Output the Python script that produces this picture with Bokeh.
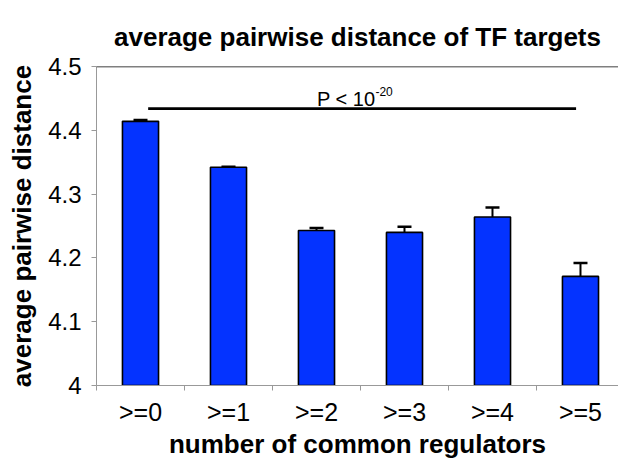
from bokeh.plotting import figure
from bokeh.models import (ColumnDataSource, Whisker, TeeHead, FixedTicker, Span,
                          Range1d, NumeralTickFormatter, Label)
from bokeh.embed import file_html
from bokeh.resources import INLINE

# ---- data ----
categories = [">=0", ">=1", ">=2", ">=3", ">=4", ">=5"]
values = [4.414, 4.342, 4.243, 4.240, 4.264, 4.171]
errors = [0.002, 0.001, 0.004, 0.009, 0.015, 0.021]
y_ticks = [4.0, 4.1, 4.2, 4.3, 4.4, 4.5]
title_text = "average pairwise distance of TF targets"
p_text = "P < 10"
p_exp = "-20"
p_line_y = 4.434
p_line_x = [0.587, 5.45]

FONT = "Liberation Sans"

xpos = [i + 0.5 for i in range(len(categories))]
src = ColumnDataSource(dict(
    x=xpos, top=values,
    upper=[v + e for v, e in zip(values, errors)],
    lower=[v - e for v, e in zip(values, errors)],
))

p = figure(frame_width=522, frame_height=319, output_backend="svg", toolbar_location=None,
           x_range=Range1d(0, 5.932), y_range=Range1d(4.0, 4.5),
           min_border_left=96, min_border_right=0, min_border_top=66,
           min_border_bottom=60, title=title_text)
p.outline_line_color = None
p.grid.grid_line_color = None
p.background_fill_color = "white"
p.border_fill_color = "white"

p.title.text_font = FONT
p.title.text_font_size = "26px"
p.title.text_font_style = "bold"
p.title.text_color = "black"
p.title.align = "center"
p.title.standoff = 30

p.vbar(x="x", top="top", bottom=4.0, width=0.41, source=src,
       fill_color="#0433FF", line_color="black", line_width=1.6)

w = Whisker(base="x", upper="upper", lower="lower", source=src,
            line_color="black", line_width=2,
            upper_head=TeeHead(size=14, line_width=2.5, line_color="black"),
            lower_head=TeeHead(size=14, line_width=2.5, line_color="black"))
p.add_layout(w)

# top border line at 4.5
p.add_layout(Span(location=4.5, dimension="width", line_color="black", line_width=1.5))

# significance annotation
p.line(x=p_line_x, y=[p_line_y, p_line_y], line_color="black", line_width=2.7)
p.add_layout(Label(x=3.17, y=4.4494, text=p_text, text_align="right",
                   text_baseline="alphabetic", text_font=FONT, text_font_size="20px",
                   text_color="black"))
p.add_layout(Label(x=3.17, y=4.4609, text=p_exp, text_align="left",
                   text_baseline="alphabetic", text_font=FONT, text_font_size="12px",
                   text_color="black"))

# y axis
ya = p.yaxis[0]
ya.ticker = FixedTicker(ticks=y_ticks)
ya.formatter = NumeralTickFormatter(format="0.[0]")
ya.axis_line_color = "#999999"
ya.major_tick_line_color = "#999999"
ya.major_tick_out = 5
ya.major_tick_in = 0
ya.minor_tick_line_color = None
ya.major_label_text_font = FONT
ya.major_label_text_font_size = "24px"
ya.major_label_text_color = "black"
ya.major_label_standoff = 10
ya.axis_label = "average pairwise distance"
ya.axis_label_text_font = FONT
ya.axis_label_text_font_size = "26px"
ya.axis_label_text_font_style = "bold"
ya.axis_label_text_color = "black"
ya.axis_label_standoff = 8

# x axis
xa = p.xaxis[0]
xa.ticker = FixedTicker(ticks=xpos, minor_ticks=list(range(len(categories) + 1)))
xa.major_label_overrides = {x: c for x, c in zip(xpos, categories)}
xa.axis_line_color = "#999999"
xa.major_tick_line_color = None
xa.minor_tick_line_color = "#999999"
xa.minor_tick_out = 5
xa.minor_tick_in = 0
xa.major_label_text_font = FONT
xa.major_label_text_font_size = "25px"
xa.major_label_text_color = "black"
xa.major_label_standoff = 6
xa.axis_label = "number of common regulators"
xa.axis_label_text_font = FONT
xa.axis_label_text_font_size = "26px"
xa.axis_label_text_font_style = "bold"
xa.axis_label_text_color = "black"
xa.axis_label_standoff = 0

open("out.html", "w").write(file_html(p, INLINE))
